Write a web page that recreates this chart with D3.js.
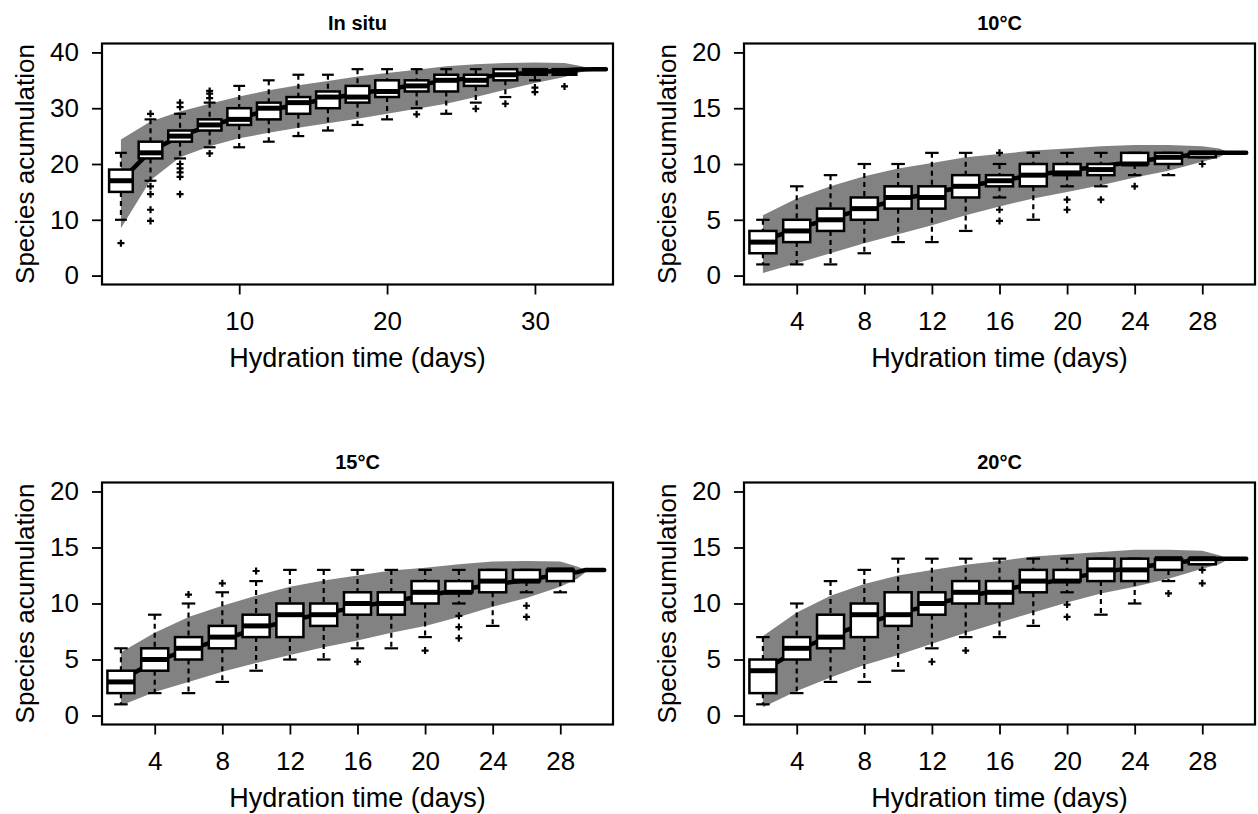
<!DOCTYPE html>
<html>
<head>
<meta charset="utf-8">
<script src="https://cdn.jsdelivr.net/npm/d3@7"></script>
<style>
  body { margin: 0; background: #fff; }
  svg text { font-family: "Liberation Sans", Arial, sans-serif; fill: #000; }
</style>
</head>
<body>
<svg id="chart" width="1258" height="814"></svg>
<script>
// ---- In situ ----
var insituDays = [2, 4, 6, 8, 10, 12, 14, 16, 18, 20, 22, 24, 26, 28, 30, 32];
var insituMed = [17, 22, 25, 27, 28, 30, 31, 32, 32, 33, 34, 35, 35, 36, 36.5, 36.5];
var insituQ1  = [15, 21, 24, 26, 27, 28, 29, 30, 31, 32, 33, 33, 34, 35, 36, 36];
var insituQ3  = [19, 24, 26, 28, 30, 31, 32, 33, 34, 35, 35, 36, 36, 37, 37, 37];
var insituLo  = [10, 17, 21, 23, 23, 24, 25, 26, 27, 28, 30, 29, 31, 32, 35, 36];
var insituHi  = [22, 28, 29, 31, 34, 35, 36, 36, 37, 37, 37, 37, 37, 37, 37, 37];
var insituOut = [[5.8], [29, 16, 14.6, 11.8, 9.8], [30.2, 31, 20, 19.2, 18.5, 17.7, 14.6], [31.8, 32.6, 33.1, 21.9],
                 [], [], [], [], [], [], [28.9], [], [29.9], [30.8], [33.7, 32.9], [33.9]];
var insituCurveDays = [2, 4, 6, 8, 10, 12, 14, 16, 18, 20, 22, 24, 26, 28, 30, 32, 33, 34, 34.8];
var insituMean  = [17, 22.3, 25, 26.9, 28.3, 29.6, 30.7, 31.7, 32.6, 33.4, 34.2, 34.9, 35.5, 36, 36.4, 36.8, 36.95, 37, 37];
var insituUpper = [24.4, 27.6, 29.4, 30.8, 32.1, 33.2, 34.1, 34.9, 35.7, 36.3, 36.9, 37.5, 37.9, 38.1, 38.2, 38.1, 37.6, 37, 37];
var insituLower = [8.5, 17.1, 21.2, 23.2, 24.6, 25.6, 26.5, 27.3, 28.1, 29, 29.9, 30.8, 32, 33.3, 34.5, 35.6, 36.4, 37, 37];

// ---- 10°C ----
var days28 = [2, 4, 6, 8, 10, 12, 14, 16, 18, 20, 22, 24, 26, 28];
var t10Med = [3, 4, 5, 6, 7, 7, 8, 8.5, 9, 9.2, 9.5, 10, 10.6, 11];
var t10Q1  = [2, 3, 4, 5, 6, 6, 7, 8, 8, 9, 9, 10, 10, 10.6];
var t10Q3  = [4, 5, 6, 7, 8, 8, 9, 9, 10, 10, 10, 11, 11, 11];
var t10Lo  = [1, 1, 1, 2, 3, 3, 4, 7, 5, 8, 8, 9, 9, 10.6];
var t10Hi  = [5, 8, 9, 10, 10, 11, 11, 10, 11, 11, 11, 11, 11, 11];
var t10Out = [[], [], [], [], [], [], [], [11, 5.9, 4.9], [], [6.8, 5.9], [6.8], [8], [], [10]];
var curveDays30 = [2, 4, 6, 8, 10, 12, 14, 16, 18, 20, 22, 24, 26, 28, 29, 29.5, 30.6];
var t10Mean  = [3.1, 4.2, 5.1, 6, 6.8, 7.4, 8, 8.5, 9, 9.4, 9.8, 10.2, 10.6, 10.9, 11, 11, 11];
var t10Upper = [5.4, 6.9, 8.0, 8.9, 9.6, 10.1, 10.6, 10.9, 11.2, 11.4, 11.6, 11.7, 11.7, 11.6, 11.4, 11.1, 11];
var t10Lower = [0.24, 1.1, 2.0, 2.9, 3.7, 4.5, 5.4, 6.2, 6.9, 7.5, 8.1, 8.8, 9.4, 10.2, 10.6, 11, 11];

// ---- 15°C ----
var t15Med = [3, 5, 6, 7, 8, 9, 9, 10, 10, 11, 11, 12, 12, 13];
var t15Q1  = [2, 4, 5, 6, 7, 7, 8, 9, 9, 10, 11, 11, 12, 12];
var t15Q3  = [4, 6, 7, 8, 9, 10, 10, 11, 11, 12, 12, 13, 13, 13];
var t15Lo  = [1, 2, 2, 3, 4, 5, 5, 6, 6, 7, 10, 8, 11, 11];
var t15Hi  = [6, 9, 10, 11, 12, 13, 13, 13, 13, 13, 13, 13, 13, 13];
var t15Out = [[], [], [10.8], [11.8], [12.9], [], [], [4.8], [], [5.8], [8.9, 7.9, 6.9], [], [9.8, 8.8], []];
var t15Mean  = [3.2, 4.8, 5.9, 6.8, 7.7, 8.5, 9.1, 9.7, 10.2, 10.7, 11.2, 11.7, 12.1, 12.6, 12.8, 13, 13];
var t15Upper = [5.65, 7.4, 8.8, 9.8, 10.7, 11.5, 12.05, 12.5, 12.95, 13.2, 13.5, 13.75, 13.8, 13.75, 13.3, 13.0, 13];
var t15Lower = [0.9, 2.1, 3.0, 3.9, 4.7, 5.4, 6.1, 6.7, 7.4, 8.0, 8.8, 9.7, 10.5, 11.5, 12.2, 12.8, 13];

// ---- 20°C ----
var t20Med = [4, 6, 7, 9, 9, 10, 11, 11, 12, 12, 13, 13, 14, 14];
var t20Q1  = [2, 5, 6, 7, 8, 9, 10, 10, 11, 12, 12, 12, 13, 13.5];
var t20Q3  = [5, 7, 9, 10, 11, 11, 12, 12, 13, 13, 14, 14, 14, 14];
var t20Lo  = [1, 2, 3, 3, 4, 6, 7, 7, 8, 11, 9, 10, 12, 13.5];
var t20Hi  = [7, 10, 12, 13, 14, 14, 14, 14, 14, 14, 14, 14, 14, 14];
var t20Out = [[], [], [], [], [], [4.8], [5.8], [], [], [9.9, 8.8], [], [], [10.9], [13, 11.8]];
var t20Mean  = [4, 5.8, 7.1, 8.2, 9.1, 9.9, 10.6, 11.2, 11.7, 12.2, 12.8, 13.2, 13.6, 13.9, 14, 14, 14];
var t20Upper = [7.1, 9.2, 10.7, 11.75, 12.5, 13.0, 13.45, 13.8, 14.2, 14.4, 14.6, 14.8, 14.8, 14.7, 14.3, 14.0, 14];
var t20Lower = [0.75, 2.2, 3.4, 4.5, 5.4, 6.4, 7.4, 8.3, 9.2, 10.1, 10.9, 11.5, 12.2, 13.1, 13.5, 13.9, 14];

var panelTitles = ["In situ", "10°C", "15°C", "20°C"];
var insituXTicks = [10, 20, 30];
var tempXTicks = [4, 8, 12, 16, 20, 24, 28];
var insituYTicks = [0, 10, 20, 30, 40];
var tempYTicks = [0, 5, 10, 15, 20];

var svg = d3.select("#chart");
var bandColor = "#828282";

var panels = [
    { title: panelTitles[0], left: 102, right: 613, top: 43.5, bottom: 284.5,
      xDomain: [0.72, 35.28], yDomain: [-1.6, 41.6], xTicks: insituXTicks, yTicks: insituYTicks,
      days: insituDays, med: insituMed, q1: insituQ1, q3: insituQ3, lo: insituLo, hi: insituHi, out: insituOut,
      curveDays: insituCurveDays, mean: insituMean, upper: insituUpper, lower: insituLower },
    { title: panelTitles[1], left: 744, right: 1255, top: 43.5, bottom: 284.5,
      xDomain: [0.88, 31.12], yDomain: [-0.8, 20.8], xTicks: tempXTicks, yTicks: tempYTicks,
      days: days28, med: t10Med, q1: t10Q1, q3: t10Q3, lo: t10Lo, hi: t10Hi, out: t10Out,
      curveDays: curveDays30, mean: t10Mean, upper: t10Upper, lower: t10Lower },
    { title: panelTitles[2], left: 102, right: 613, top: 482.5, bottom: 724.5,
      xDomain: [0.88, 31.12], yDomain: [-0.8, 20.8], xTicks: tempXTicks, yTicks: tempYTicks,
      days: days28, med: t15Med, q1: t15Q1, q3: t15Q3, lo: t15Lo, hi: t15Hi, out: t15Out,
      curveDays: curveDays30, mean: t15Mean, upper: t15Upper, lower: t15Lower },
    { title: panelTitles[3], left: 744, right: 1255, top: 482.5, bottom: 724.5,
      xDomain: [0.88, 31.12], yDomain: [-0.8, 20.8], xTicks: tempXTicks, yTicks: tempYTicks,
      days: days28, med: t20Med, q1: t20Q1, q3: t20Q3, lo: t20Lo, hi: t20Hi, out: t20Out,
      curveDays: curveDays30, mean: t20Mean, upper: t20Upper, lower: t20Lower }
];

panels.forEach(drawPanel);

function drawPanel(p) {
    var g = svg.append("g");
    var x = d3.scaleLinear().domain(p.xDomain).range([p.left, p.right]);
    var y = d3.scaleLinear().domain(p.yDomain).range([p.bottom, p.top]);

    // accumulation curve with confidence band
    var curve = p.curveDays.map(function (d, i) {
        return { day: d, mean: p.mean[i], upper: p.upper[i], lower: p.lower[i] };
    });
    g.append("path").datum(curve)
        .attr("d", d3.area().x(d => x(d.day)).y0(d => y(d.lower)).y1(d => y(d.upper)))
        .attr("fill", bandColor);
    g.append("path").datum(curve)
        .attr("d", d3.line().x(d => x(d.day)).y(d => y(d.mean)))
        .attr("fill", "none").attr("stroke", "#000").attr("stroke-width", 4.5)
        .attr("stroke-linecap", "round").attr("stroke-linejoin", "round");

    // boxplots
    var boxes = p.days.map(function (d, i) {
        return { day: d, med: p.med[i], q1: p.q1[i], q3: p.q3[i], lo: p.lo[i], hi: p.hi[i], out: p.out[i] };
    });
    var half = x(p.days[0] + 0.8) - x(p.days[0]);
    var cap = half / 2;

    var bg = g.selectAll(".box").data(boxes).join("g").attr("class", "box");

    bg.append("line")
        .attr("x1", d => x(d.day)).attr("x2", d => x(d.day))
        .attr("y1", d => y(d.hi)).attr("y2", d => y(d.q3))
        .attr("stroke", "#000").attr("stroke-width", 2.2).attr("stroke-dasharray", "5,4");
    bg.append("line")
        .attr("x1", d => x(d.day)).attr("x2", d => x(d.day))
        .attr("y1", d => y(d.q1)).attr("y2", d => y(d.lo))
        .attr("stroke", "#000").attr("stroke-width", 2.2).attr("stroke-dasharray", "5,4");
    bg.append("line")
        .attr("x1", d => x(d.day) - cap).attr("x2", d => x(d.day) + cap)
        .attr("y1", d => y(d.hi)).attr("y2", d => y(d.hi))
        .attr("stroke", "#000").attr("stroke-width", 2.2);
    bg.append("line")
        .attr("x1", d => x(d.day) - cap).attr("x2", d => x(d.day) + cap)
        .attr("y1", d => y(d.lo)).attr("y2", d => y(d.lo))
        .attr("stroke", "#000").attr("stroke-width", 2.2);
    bg.append("rect")
        .attr("x", d => x(d.day) - half).attr("width", 2 * half)
        .attr("y", d => y(d.q3)).attr("height", d => Math.max(0, y(d.q1) - y(d.q3)))
        .attr("fill", "#fff").attr("stroke", "#000").attr("stroke-width", 2.5);
    bg.append("line")
        .attr("x1", d => x(d.day) - half).attr("x2", d => x(d.day) + half)
        .attr("y1", d => y(d.med)).attr("y2", d => y(d.med))
        .attr("stroke", "#000").attr("stroke-width", 5);

    bg.selectAll(".outlier").data(d => d.out.map(v => ({ day: d.day, v: v }))).join("path")
        .attr("class", "outlier")
        .attr("d", function (d) {
            var cx = x(d.day), cy = y(d.v);
            return "M" + (cx - 3.5) + "," + cy + "H" + (cx + 3.5) + "M" + cx + "," + (cy - 3.5) + "V" + (cy + 3.5);
        })
        .attr("stroke", "#000").attr("stroke-width", 2.2);

    // frame
    g.append("rect")
        .attr("x", p.left).attr("y", p.top)
        .attr("width", p.right - p.left).attr("height", p.bottom - p.top)
        .attr("fill", "none").attr("stroke", "#000").attr("stroke-width", 2.2);

    // axes
    var yAxis = g.append("g").attr("transform", "translate(" + p.left + ",0)")
        .call(d3.axisLeft(y).tickValues(p.yTicks).tickSize(10).tickPadding(13).tickSizeOuter(0));
    var xAxis = g.append("g").attr("transform", "translate(0," + p.bottom + ")")
        .call(d3.axisBottom(x).tickValues(p.xTicks).tickSize(10).tickPadding(17.5).tickSizeOuter(0));
    [yAxis, xAxis].forEach(function (a) {
        a.select(".domain").remove();
        a.attr("font-size", 26).attr("font-family", "Liberation Sans, Arial, sans-serif");
        a.selectAll(".tick line").attr("stroke", "#000").attr("stroke-width", 1.8);
    });

    // titles and labels
    g.append("text")
        .attr("x", (p.left + p.right) / 2).attr("y", p.top - 13.5)
        .attr("text-anchor", "middle").attr("font-size", 20).attr("font-weight", "bold")
        .text(p.title);
    g.append("text")
        .attr("x", (p.left + p.right) / 2).attr("y", p.bottom + 82.5)
        .attr("text-anchor", "middle").attr("font-size", 27)
        .text("Hydration time (days)");
    g.append("text")
        .attr("transform", "translate(" + (p.left - 68) + "," + ((p.top + p.bottom) / 2) + ") rotate(-90)")
        .attr("text-anchor", "middle").attr("font-size", 26)
        .text("Species acumulation");
}
</script>
</body>
</html>
